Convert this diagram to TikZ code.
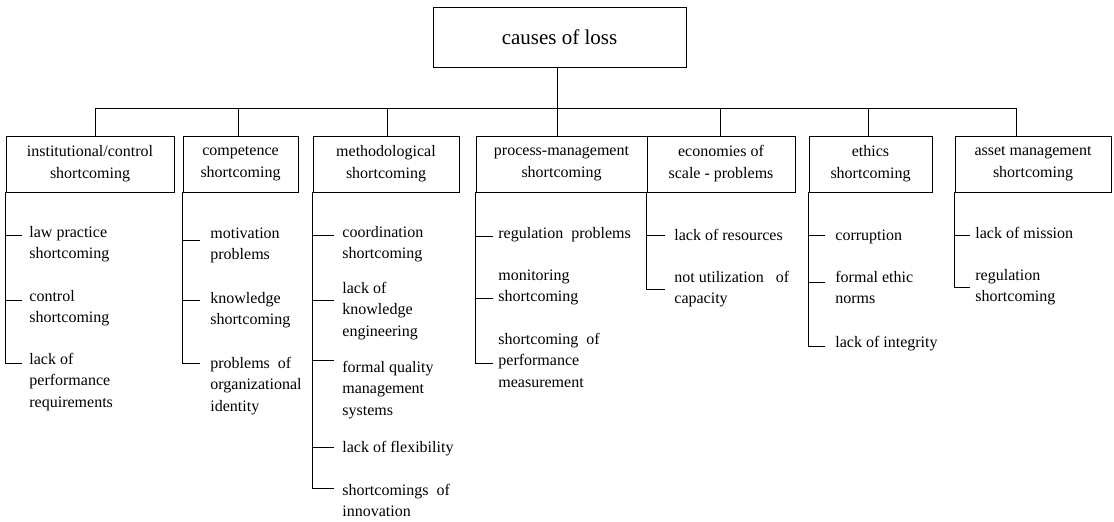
\documentclass[tikz,border=0pt]{standalone}
\usepackage{fontspec}
\setmainfont{Liberation Serif}

\tikzset{
    cause/.style={draw, line width=0.8pt, minimum height=56pt, inner sep=0pt,
        align=center, font=\fontsize{16pt}{22pt}\selectfont},
    leaf/.style={anchor=base west, inner sep=0pt, align=left,
        font=\fontsize{16pt}{21.5pt}\selectfont},
}

\begin{document}
\begin{tikzpicture}[x=1pt, y=-1pt, line width=0.8pt]
        \useasboundingbox (0,0) rectangle (1114,522);

        \node[draw, minimum width=253pt, minimum height=60pt, inner sep=0pt,
            font=\fontsize{21pt}{25pt}\selectfont] (root) at (559.5,37) {causes of loss};

        \node[cause, minimum width=168pt] (c1) at (90,164) {institutional/control\\shortcoming};
        \node[cause, minimum width=115pt] (c2) at (240.5,164) {competence\\shortcoming};
        \node[cause, minimum width=146pt] (c3) at (386,164) {methodological\\shortcoming};
        \node[cause, minimum width=171pt] (c4) at (561.5,164) {process-management\\shortcoming};
        \node[cause, minimum width=148pt] (c5) at (721,164) {economies of\\scale - problems};
        \node[cause, minimum width=123pt] (c6) at (870.5,164) {ethics\\shortcoming};
        \node[cause, minimum width=156pt] (c7) at (1033,164) {asset management\\shortcoming};

        \coordinate (d1) at (95,108);
        \coordinate (d2) at (238,108);
        \coordinate (d3) at (387,108);
        \coordinate (d4) at (557,108);
        \coordinate (d5) at (720,108);
        \coordinate (d6) at (868,108);
        \coordinate (d7) at (1016,108);

        \draw (root.south -| d4) -- (d4);
        \draw (d1) -- (d7);
        \draw (d1) -- (d1 |- c1.north);
        \draw (d2) -- (d2 |- c2.north);
        \draw (d3) -- (d3 |- c3.north);
        \draw (d4) -- (d4 |- c4.north);
        \draw (d5) -- (d5 |- c5.north);
        \draw (d6) -- (d6 |- c6.north);
        \draw (d7) -- (d7 |- c7.north);

        \node[leaf] (l11) at (29,258.5) {law practice\\shortcoming};
        \node[leaf] (l12) at (29,322.5) {control\\shortcoming};
        \node[leaf] (l13) at (29,407) {lack of\\performance\\requirements};
        \coordinate (t11) at (22,235);
        \coordinate (t12) at (22,300);
        \coordinate (t13) at (22,363);
        \draw (c1.south west) |- (t13);
        \draw (c1.south west |- t11) -- (t11);
        \draw (c1.south west |- t12) -- (t12);

        \node[leaf] (l21) at (210,259.5) {motivation\\problems};
        \node[leaf] (l22) at (210,324.5) {knowledge\\shortcoming};
        \node[leaf] (l23) at (210,411) {problems\ \ of\\organizational\\identity};
        \coordinate (t21) at (200,240);
        \coordinate (t22) at (200,300);
        \coordinate (t23) at (200,363);
        \draw (c2.south west) |- (t23);
        \draw (c2.south west |- t21) -- (t21);
        \draw (c2.south west |- t22) -- (t22);

        \node[leaf] (l31) at (342,258.5) {coordination\\shortcoming};
        \node[leaf] (l32) at (342,336) {lack of\\knowledge\\engineering};
        \node[leaf] (l33) at (342,415) {formal quality\\management\\systems};
        \node[leaf] (l34) at (342,452) {lack of flexibility};
        \node[leaf] (l35) at (342,516.5) {shortcomings\ \ of\\innovation};
        \coordinate (t31) at (334,235);
        \coordinate (t32) at (334,300);
        \coordinate (t33) at (334,360);
        \coordinate (t34) at (334,447);
        \coordinate (t35) at (334,488);
        \draw (c3.south west) |- (t35);
        \draw (c3.south west |- t31) -- (t31);
        \draw (c3.south west |- t32) -- (t32);
        \draw (c3.south west |- t33) -- (t33);
        \draw (c3.south west |- t34) -- (t34);

        \node[leaf] (l41) at (498,238) {regulation\ \ problems};
        \node[leaf] (l42) at (498,301.5) {monitoring\\shortcoming};
        \node[leaf] (l43) at (498,387) {shortcoming\ \ of\\performance\\measurement};
        \coordinate (t41) at (493,236);
        \coordinate (t42) at (493,298);
        \coordinate (t43) at (493,363);
        \draw (c4.south west) |- (t43);
        \draw (c4.south west |- t41) -- (t41);
        \draw (c4.south west |- t42) -- (t42);

        \node[leaf] (l51) at (674,240) {lack of resources};
        \node[leaf] (l52) at (674,303.5) {not utilization\ \ \ of\\capacity};
        \coordinate (t51) at (665,235);
        \coordinate (t52) at (665,289);
        \draw (c5.south west) |- (t52);
        \draw (c5.south west |- t51) -- (t51);

        \node[leaf] (l61) at (835,240) {corruption};
        \node[leaf] (l62) at (835,303.5) {formal ethic\\norms};
        \node[leaf] (l63) at (835,347) {lack of integrity};
        \coordinate (t61) at (825,235);
        \coordinate (t62) at (825,282);
        \coordinate (t63) at (825,346);
        \draw (c6.south west) |- (t63);
        \draw (c6.south west |- t61) -- (t61);
        \draw (c6.south west |- t62) -- (t62);

        \node[leaf] (l71) at (975,238) {lack of mission};
        \node[leaf] (l72) at (975,301.5) {regulation\\shortcoming};
        \coordinate (t71) at (970,235);
        \coordinate (t72) at (970,287);
        \draw (c7.south west) |- (t72);
        \draw (c7.south west |- t71) -- (t71);
\end{tikzpicture}
\end{document}
